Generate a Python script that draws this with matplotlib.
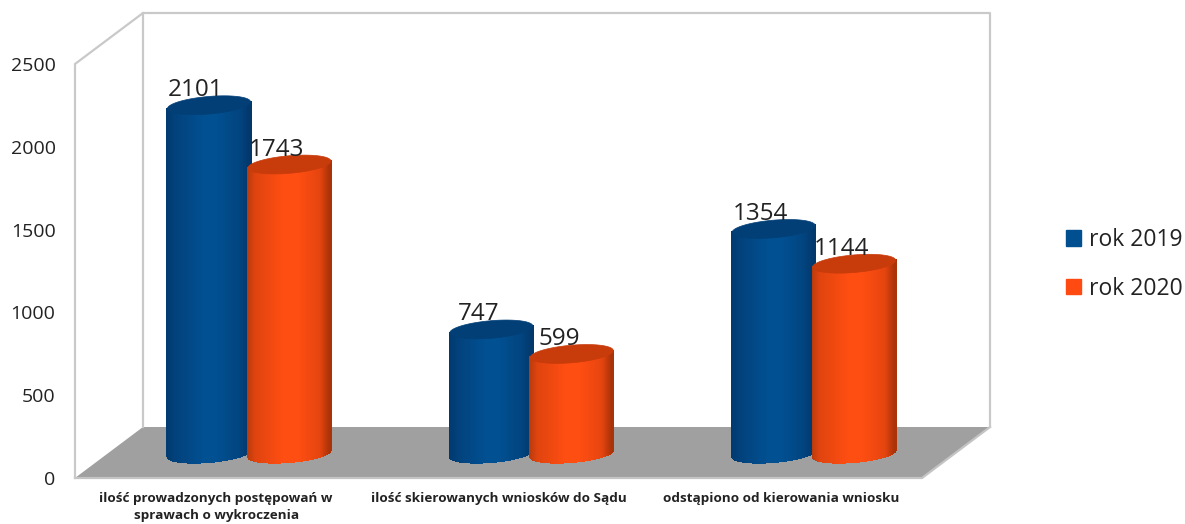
import numpy as np
import matplotlib
matplotlib.use('Agg')
import matplotlib.pyplot as plt
from matplotlib.collections import PolyCollection
from matplotlib.colors import LinearSegmentedColormap
from matplotlib.patches import Patch, Polygon

plt.rcParams['font.family'] = ['Open Sans', 'DejaVu Sans']

categories = ['ilość prowadzonych postępowań w\nsprawach o wykroczenia',
              'ilość skierowanych wniosków do Sądu',
              'odstąpiono od kierowania wniosku']
series_names = ['rok 2019', 'rok 2020']
values_2019 = [2101, 747, 1354]
values_2020 = [1743, 599, 1144]
y_ticks = [0, 500, 1000, 1500, 2000, 2500]

W, H = 1185, 524
TEXT = '#222222'
WALL = '#c9c9c9'

# cylinder shape, in data units of the axes
depth_x = 0.117
depth_y = 150
radius = 0.147
offset = 0.1425
cap_b = 53
cap_shear = 140


def lower_edge(x, cx, cy):
    u = np.clip((x - cx) / radius, -1, 1)
    return cy + cap_shear * (x - cx) - cap_b * np.sqrt(1 - u ** 2)


def cap_outline(cx, cy):
    t = np.linspace(0, 2 * np.pi, 120)
    xs = cx + radius * np.cos(t)
    ys = cy + cap_b * np.sin(t) + cap_shear * radius * np.cos(t)
    return np.column_stack([xs, ys])


def cylinder(ax, cx, value, cmap, cap_color, z):
    edges = np.linspace(cx - radius, cx + radius, 86)
    polys = []
    cols = []
    for a, b in zip(edges[:-1], edges[1:]):
        polys.append([(a, lower_edge(a, cx, depth_y)),
                      (b, lower_edge(b, cx, depth_y)),
                      (b, lower_edge(b, cx, depth_y + value)),
                      (a, lower_edge(a, cx, depth_y + value))])
        cols.append(cmap(((a + b) / 2 - edges[0]) / (edges[-1] - edges[0])))
    body = PolyCollection(polys, facecolors=cols, edgecolors=cols, linewidths=0.8,
                          antialiaseds=False, zorder=z, clip_on=False)
    ax.add_collection(body)
    ax.add_patch(Polygon(cap_outline(cx, depth_y + value), closed=True, fc=cap_color,
                         ec=cap_color, lw=0.5, zorder=z + 0.1, clip_on=False))


blue_map = LinearSegmentedColormap.from_list('b', [(0, '#013a70'), (0.12, '#02427c'), (0.45, '#015092'),
                                                   (0.6, '#015092'), (0.88, '#02447f'), (1, '#02386a')])
red_map = LinearSegmentedColormap.from_list('r', [(0, '#b83a0c'), (0.1, '#e0440f'), (0.45, '#ff4e12'),
                                                  (0.6, '#ff4e12'), (0.88, '#e6450f'), (1, '#a83208')])
blue_cap = '#023f76'
red_cap = '#c83b0b'

fig = plt.figure(figsize=(W / 100, H / 100), dpi=100)
ax = fig.add_axes([75 / W, 1 - 478 / H, 847 / W, 414 / H])
ax.set_xlim(-0.5, 2.5)
ax.set_ylim(0, 2500)
for s in ax.spines.values():
    s.set_visible(False)
ax.patch.set_visible(False)

# back walls and floor, placed in axes fractions
dx = 68 / 847
dy = 51 / 414
ax.add_patch(Polygon([(dx, dy), (1 + dx, dy), (1, 0), (0, 0)], closed=True, fc='#a0a0a0', ec='none',
                     transform=ax.transAxes, clip_on=False, zorder=1))
ax.plot([0, 1, 1 + dx], [0, 0, dy], color='#c4c4c4', lw=1.6, transform=ax.transAxes, clip_on=False, zorder=1.5)
ax.plot([0, 0, dx, 1 + dx, 1 + dx], [0, 1, 1 + dy, 1 + dy, dy], color=WALL, lw=1.6,
        transform=ax.transAxes, clip_on=False, zorder=1.5)
ax.plot([dx, dx], [dy, 1 + dy], color=WALL, lw=1.6, transform=ax.transAxes, clip_on=False, zorder=1.5)

for i in range(len(categories)):
    cx = i + depth_x
    cylinder(ax, cx - offset, values_2019[i], blue_map, blue_cap, 3)
    cylinder(ax, cx + offset, values_2020[i], red_map, red_cap, 4)
    for x0, v in [(cx - offset, values_2019[i]), (cx + offset, values_2020[i])]:
        ax.annotate(str(v), (x0, depth_y + v), xytext=(-13, 15), textcoords='offset pixels',
                    ha='center', va='center', fontsize=17.5, color=TEXT, zorder=6, annotation_clip=False)

ax.set_yticks(y_ticks)
ax.set_xticks(range(len(categories)))
ax.set_xticklabels(categories, fontsize=9.7, fontweight='bold', color=TEXT, linespacing=1.45)
ax.tick_params(axis='x', length=0, pad=10)
ax.tick_params(axis='y', length=0, pad=14, labelsize=14, labelcolor=TEXT)

handles = [Patch(color='#004f91', label=series_names[0]), Patch(color='#ff4a12', label=series_names[1])]
fig.legend(handles=handles, loc='upper left', bbox_to_anchor=(1066 / W, 1 - 228 / H), frameon=False,
           fontsize=16.5, handlelength=0.65, handleheight=0.65, handletextpad=0.35,
           labelspacing=1.07, borderpad=0, borderaxespad=0, labelcolor=TEXT)

fig.savefig('out.png', dpi=100)
